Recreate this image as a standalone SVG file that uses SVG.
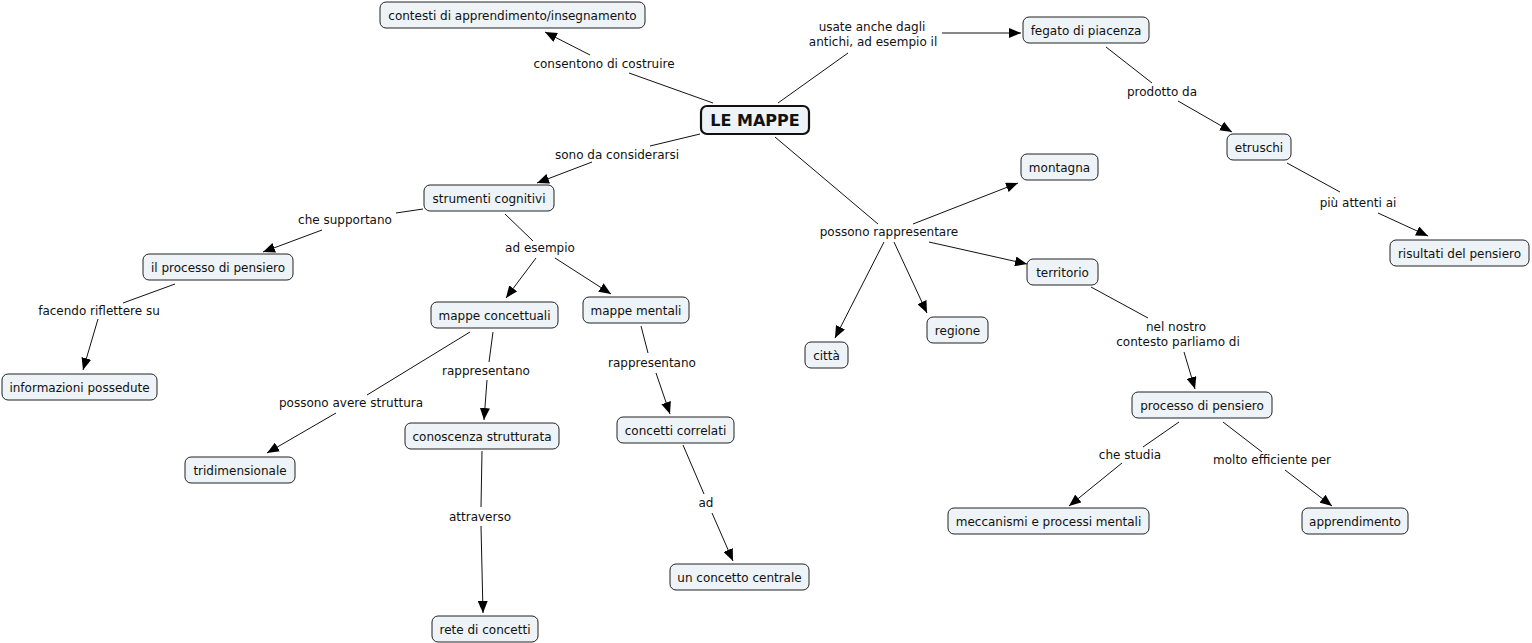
<svg xmlns="http://www.w3.org/2000/svg" width="1532" height="643" viewBox="0 0 1532 643">
<style>
text{font-family:"DejaVu Sans",Verdana,sans-serif;font-size:12px;fill:#111;text-anchor:middle}
.n rect{fill:#edf3f6;stroke:#222;stroke-width:1}
.root rect{fill:#edf3f6;stroke:#111;stroke-width:2.2}
.root text{font-weight:bold;font-size:16px}
.c line{stroke:#111;stroke-width:1}
.a{marker-end:url(#arr)}
</style>
<defs>
<marker id="arr" viewBox="0 0 12 10" refX="12" refY="5" markerWidth="12" markerHeight="10" markerUnits="userSpaceOnUse" orient="auto">
<path d="M0,0 L12,5 L0,10 z" fill="#000"/>
</marker>
</defs>
<rect width="1532" height="643" fill="#fff"/>
<g id="connectors" class="c">
<line x1="713" y1="103" x2="629" y2="73"/>
<line class="a" x1="590" y1="55" x2="545" y2="32"/>
<line x1="778" y1="103" x2="848" y2="53"/>
<line class="a" x1="942" y1="33" x2="1021" y2="33"/>
<line x1="700" y1="134" x2="650" y2="146"/>
<line class="a" x1="592" y1="162" x2="537" y2="183"/>
<line x1="775" y1="137" x2="878" y2="224"/>
<line class="a" x1="913" y1="224" x2="1018" y2="183"/>
<line class="a" x1="929" y1="242" x2="1027" y2="264"/>
<line class="a" x1="884" y1="242" x2="835" y2="338"/>
<line class="a" x1="894" y1="242" x2="927" y2="313"/>
<line x1="1106" y1="47" x2="1152" y2="83"/>
<line class="a" x1="1178" y1="101" x2="1232" y2="132"/>
<line x1="1287" y1="163" x2="1340" y2="192"/>
<line class="a" x1="1378" y1="213" x2="1428" y2="236"/>
<line x1="423" y1="209" x2="396" y2="213"/>
<line class="a" x1="322" y1="230" x2="263" y2="252"/>
<line x1="505" y1="214" x2="533" y2="241"/>
<line class="a" x1="536" y1="258" x2="506" y2="298"/>
<line class="a" x1="555" y1="258" x2="611" y2="294"/>
<line x1="175" y1="284" x2="123" y2="303"/>
<line class="a" x1="98" y1="319" x2="83" y2="370"/>
<line x1="470" y1="332" x2="367" y2="395"/>
<line class="a" x1="336" y1="413" x2="267" y2="453"/>
<line x1="493" y1="332" x2="489" y2="362"/>
<line class="a" x1="487" y1="380" x2="484" y2="420"/>
<line x1="641" y1="326" x2="648" y2="353"/>
<line class="a" x1="656" y1="373" x2="670" y2="414"/>
<line x1="1091" y1="287" x2="1148" y2="318"/>
<line class="a" x1="1184" y1="352" x2="1195" y2="389"/>
<line x1="1179" y1="422" x2="1143" y2="447"/>
<line class="a" x1="1122" y1="463" x2="1069" y2="506"/>
<line x1="1223" y1="422" x2="1262" y2="452"/>
<line class="a" x1="1285" y1="470" x2="1332" y2="506"/>
<line x1="482" y1="451" x2="481" y2="507"/>
<line class="a" x1="481" y1="526" x2="483" y2="613"/>
<line x1="683" y1="445" x2="704" y2="494"/>
<line class="a" x1="712" y1="513" x2="733" y2="561"/>
</g>
<g id="link-labels">
<text x="604" y="68">consentono di costruire</text>
<text x="872" y="31">usate anche dagli</text>
<text x="873" y="46">antichi, ad esempio il</text>
<text x="617" y="159">sono da considerarsi</text>
<text x="1162" y="96">prodotto da</text>
<text x="345" y="224">che supportano</text>
<text x="540" y="252">ad esempio</text>
<text x="889" y="236">possono rappresentare</text>
<text x="1358" y="207">più attenti ai</text>
<text x="99" y="315">facendo riflettere su</text>
<text x="486" y="375">rappresentano</text>
<text x="652" y="367">rappresentano</text>
<text x="1176" y="331">nel nostro</text>
<text x="1178" y="346">contesto parliamo di</text>
<text x="351" y="407">possono avere struttura</text>
<text x="1130" y="459">che studia</text>
<text x="1272" y="464">molto efficiente per</text>
<text x="480" y="521">attraverso</text>
<text x="706" y="507">ad</text>
</g>
<g id="n-contesti" class="n"><rect x="380" y="2" width="265" height="26" rx="6"/><text x="512.5" y="19.5">contesti di apprendimento/insegnamento</text></g>
<g id="n-fegato" class="n"><rect x="1023" y="17" width="126" height="26" rx="6"/><text x="1086" y="34.5">fegato di piacenza</text></g>
<g id="n-lemappe" class="root"><rect x="701" y="106" width="108" height="28" rx="6"/><text x="755" y="126">LE MAPPE</text></g>
<g id="n-etruschi" class="n"><rect x="1227" y="134" width="64" height="26" rx="6"/><text x="1259" y="151.5">etruschi</text></g>
<g id="n-montagna" class="n"><rect x="1021" y="154" width="77" height="26" rx="6"/><text x="1059.5" y="171.5">montagna</text></g>
<g id="n-strumenti" class="n"><rect x="424" y="185" width="130" height="26" rx="6"/><text x="489" y="202.5">strumenti cognitivi</text></g>
<g id="n-risultati" class="n"><rect x="1390" y="240" width="139" height="26" rx="6"/><text x="1459.5" y="257.5">risultati del pensiero</text></g>
<g id="n-ilprocesso" class="n"><rect x="143" y="254" width="150" height="26" rx="6"/><text x="218" y="271.5">il processo di pensiero</text></g>
<g id="n-territorio" class="n"><rect x="1027" y="259" width="71" height="26" rx="6"/><text x="1062.5" y="276.5">territorio</text></g>
<g id="n-mappeconc" class="n"><rect x="431" y="302" width="127" height="26" rx="6"/><text x="494.5" y="319.5">mappe concettuali</text></g>
<g id="n-mappement" class="n"><rect x="583" y="297" width="106" height="26" rx="6"/><text x="636" y="314.5">mappe mentali</text></g>
<g id="n-regione" class="n"><rect x="927" y="317" width="61" height="26" rx="6"/><text x="957.5" y="334.5">regione</text></g>
<g id="n-citta" class="n"><rect x="805" y="342" width="43" height="26" rx="6"/><text x="826.5" y="359.5">città</text></g>
<g id="n-informazioni" class="n"><rect x="2" y="374" width="155" height="26" rx="6"/><text x="79.5" y="391.5">informazioni possedute</text></g>
<g id="n-processo" class="n"><rect x="1132" y="392" width="140" height="26" rx="6"/><text x="1202" y="409.5">processo di pensiero</text></g>
<g id="n-conoscenza" class="n"><rect x="405" y="423" width="154" height="26" rx="6"/><text x="482" y="440.5">conoscenza strutturata</text></g>
<g id="n-concetti" class="n"><rect x="617" y="417" width="117" height="26" rx="6"/><text x="675.5" y="434.5">concetti correlati</text></g>
<g id="n-tridimensionale" class="n"><rect x="185" y="457" width="110" height="26" rx="6"/><text x="240" y="474.5">tridimensionale</text></g>
<g id="n-meccanismi" class="n"><rect x="948" y="508" width="201" height="26" rx="6"/><text x="1048.5" y="525.5">meccanismi e processi mentali</text></g>
<g id="n-apprendimento" class="n"><rect x="1302" y="508" width="106" height="26" rx="6"/><text x="1355" y="525.5">apprendimento</text></g>
<g id="n-unconcetto" class="n"><rect x="670" y="564" width="139" height="26" rx="6"/><text x="739.5" y="581.5">un concetto centrale</text></g>
<g id="n-rete" class="n"><rect x="432" y="616" width="106" height="26" rx="6"/><text x="485" y="633.5">rete di concetti</text></g>
</svg>
